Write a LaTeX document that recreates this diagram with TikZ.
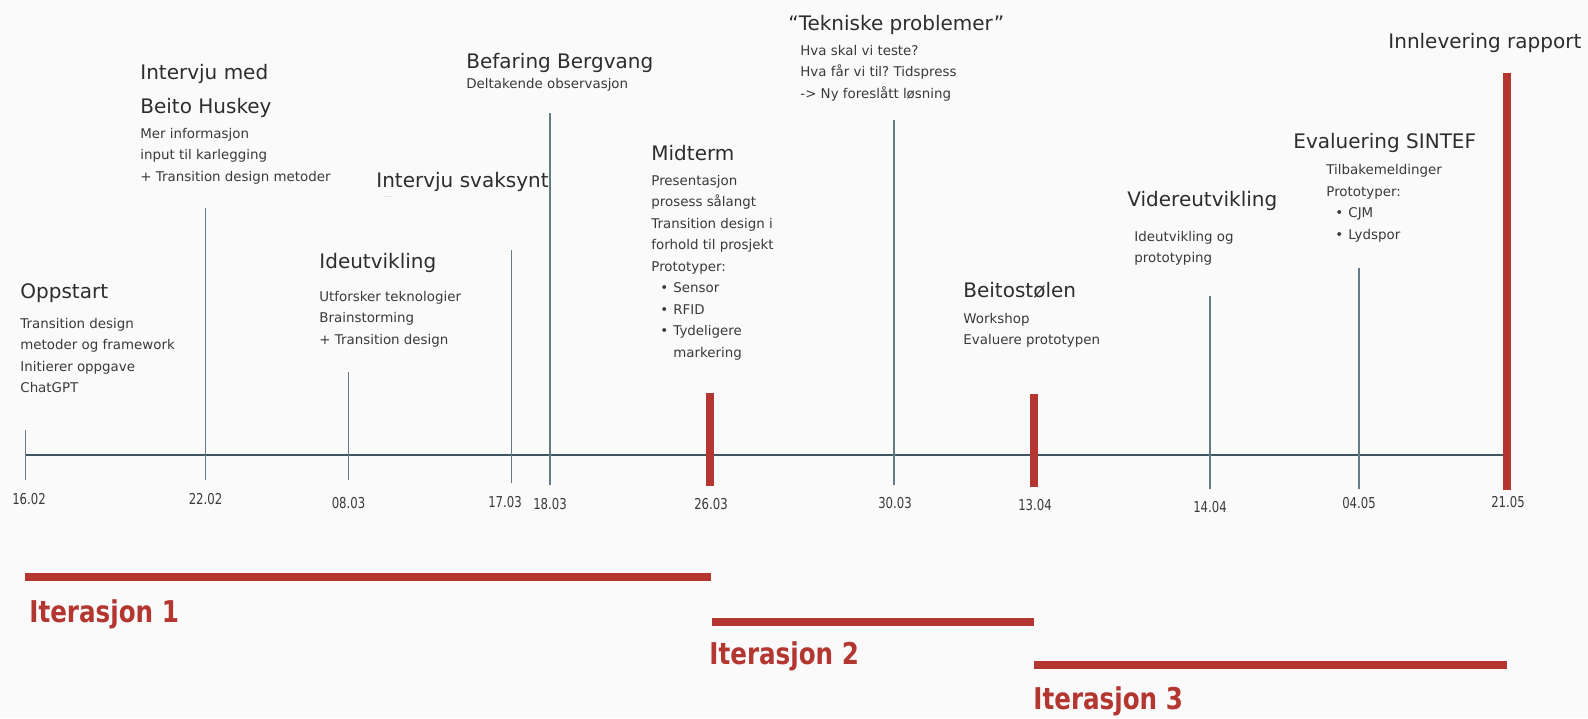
\documentclass[tikz,border=0pt]{standalone}
\usepackage{fontspec}
\setmainfont{DejaVu Sans}
\newfontfamily\datefont[FakeStretch=0.78]{DejaVu Sans}
\newfontfamily\iterfont[FakeStretch=0.82]{DejaVu Sans}
\usetikzlibrary{positioning}
\frenchspacing
\definecolor{bgwhite}{RGB}{250,250,250}
\definecolor{iterred}{RGB}{180,54,49}
\definecolor{tickslate}{RGB}{100,122,132}
\definecolor{axisslate}{RGB}{62,86,96}
\definecolor{textgray}{RGB}{45,45,45}
\definecolor{bodygray}{RGB}{58,58,58}
\newcommand{\punkt}[1]{\hspace*{4.5pt}\makebox[6.5pt][l]{•}#1}
\newcommand{\innrykk}{\hspace*{11pt}}
% multi-line nodes sit on the baseline of their last line
\tikzset{
  eventtitle/.style={anchor=base west, inner sep=0pt, text=textgray, font=\fontsize{10}{17}\selectfont, align=left},
  eventbody/.style={anchor=base west, inner sep=0pt, text=bodygray, font=\fontsize{6.7}{10.75}\selectfont, align=left},
  datelabel/.style={anchor=base, inner sep=0pt, text=bodygray, font=\datefont\fontsize{7.5}{9}\selectfont},
  thintick/.style={tickslate, line width=0.75pt},
  redbar/.style={iterred, line width=4pt},
  iterlabel/.style={anchor=base west, inner sep=0pt, text=iterred, font=\iterfont\bfseries\fontsize{15}{18}\selectfont},
}

\begin{document}
\begin{tikzpicture}[x=0.5pt, y=-0.5pt]
    \fill[bgwhite] (0,0) rectangle (1588,718);
    \useasboundingbox (0,0) rectangle (1588,718);

    % time axis
    \draw[axisslate, line width=0.75pt] (25.5,455) -- (1507,455);

    % ticks
    \draw[thintick] (25.5,430) -- (25.5,480);
    \draw[thintick] (205.5,208) -- (205.5,480);
    \draw[thintick] (348.5,372) -- (348.5,480);
    \draw[thintick] (511.5,250) -- (511.5,483);
    \draw[thintick] (550,113) -- (550,485);
    \draw[thintick] (894,120) -- (894,485);
    \draw[thintick] (1210,296) -- (1210,489);
    \draw[thintick] (1359,268) -- (1359,489);
    \draw[redbar] (710,393) -- (710,486);
    \draw[redbar] (1034,394) -- (1034,487);
    \draw[redbar] (1507,73) -- (1507,490);

    % dates
    \node[datelabel] (d1602) at (29,504) {16.02};
    \node[datelabel] (d2202) at (205.5,504) {22.02};
    \node[datelabel] (d0803) at (348.5,508) {08.03};
    \node[datelabel] (d1703) at (505,507) {17.03};
    \node[datelabel] (d1803) at (550,509) {18.03};
    \node[datelabel] (d2603) at (711,509) {26.03};
    \node[datelabel] (d3003) at (895,508) {30.03};
    \node[datelabel] (d1304) at (1035,510) {13.04};
    \node[datelabel] (d1404) at (1210,512) {14.04};
    \node[datelabel] (d0405) at (1359,508) {04.05};
    \node[datelabel] (d2105) at (1508,507) {21.05};

    % events
    \node[eventtitle] (oppstart) at (20,298) {Oppstart};
    \node[eventbody] (oppstartb) at (20,392.5) {Transition design\\metoder og framework\\Initierer oppgave\\ChatGPT};

    \node[eventtitle] (huskey) at (140,113) {Intervju med\\Beito Huskey};
    \node[eventbody] (huskeyb) at (140,181) {Mer informasjon\\input til karlegging\\+ Transition design metoder};

    \node[eventtitle] (ide) at (319,268) {Ideutvikling};
    \node[eventbody] (ideb) at (319,344) {Utforsker teknologier\\Brainstorming\\+ Transition design};

    \node[eventtitle] (svaksynt) at (376,187) {Intervju svaksynt};
    \node[anchor=base west, inner sep=0pt, text=gray!55, font=\fontsize{3.5}{4}\selectfont] (svaksyntb) at (383,197) {....};

    \node[eventtitle] (bergvang) at (466,68) {Befaring Bergvang};
    \node[eventbody] (bergvangb) at (466,88) {Deltakende observasjon};

    \node[eventtitle] (midterm) at (651,160) {Midterm};
    \node[eventbody] (midtermb) at (651,357) {Presentasjon\\prosess sålangt\\Transition design i\\forhold til prosjekt\\Prototyper:\\\punkt{Sensor}\\\punkt{RFID}\\\punkt{Tydeligere}\\\innrykk markering};

    \node[eventtitle] (tekniske) at (788,30) {“Tekniske problemer”};
    \node[eventbody] (tekniskeb) at (800,98) {Hva skal vi teste?\\Hva får vi til? Tidspress\\-> Ny foreslått løsning};

    \node[eventtitle] (beitostolen) at (963,297) {Beitostølen};
    \node[eventbody] (beitostolenb) at (963,344.5) {Workshop\\Evaluere prototypen};

    \node[eventtitle] (videre) at (1127,206) {Videreutvikling};
    \node[eventbody] (videreb) at (1134,262.5) {Ideutvikling og\\prototyping};

    \node[eventtitle] (sintef) at (1293,148) {Evaluering SINTEF};
    \node[eventbody] (sintefb) at (1326,239) {Tilbakemeldinger\\Prototyper:\\\punkt{CJM}\\\punkt{Lydspor}};

    \node[eventtitle] (rapport) at (1388,48) {Innlevering rapport};

    % iterations
    \draw[redbar] (25,577) -- (711,577);
    \node[iterlabel] (iter1) at (29,622) {Iterasjon 1};
    \draw[redbar] (712,622) -- (1034,622);
    \node[iterlabel] (iter2) at (709,664) {Iterasjon 2};
    \draw[redbar] (1034,665) -- (1507,665);
    \node[iterlabel] (iter3) at (1033,709) {Iterasjon 3};
\end{tikzpicture}
\end{document}
